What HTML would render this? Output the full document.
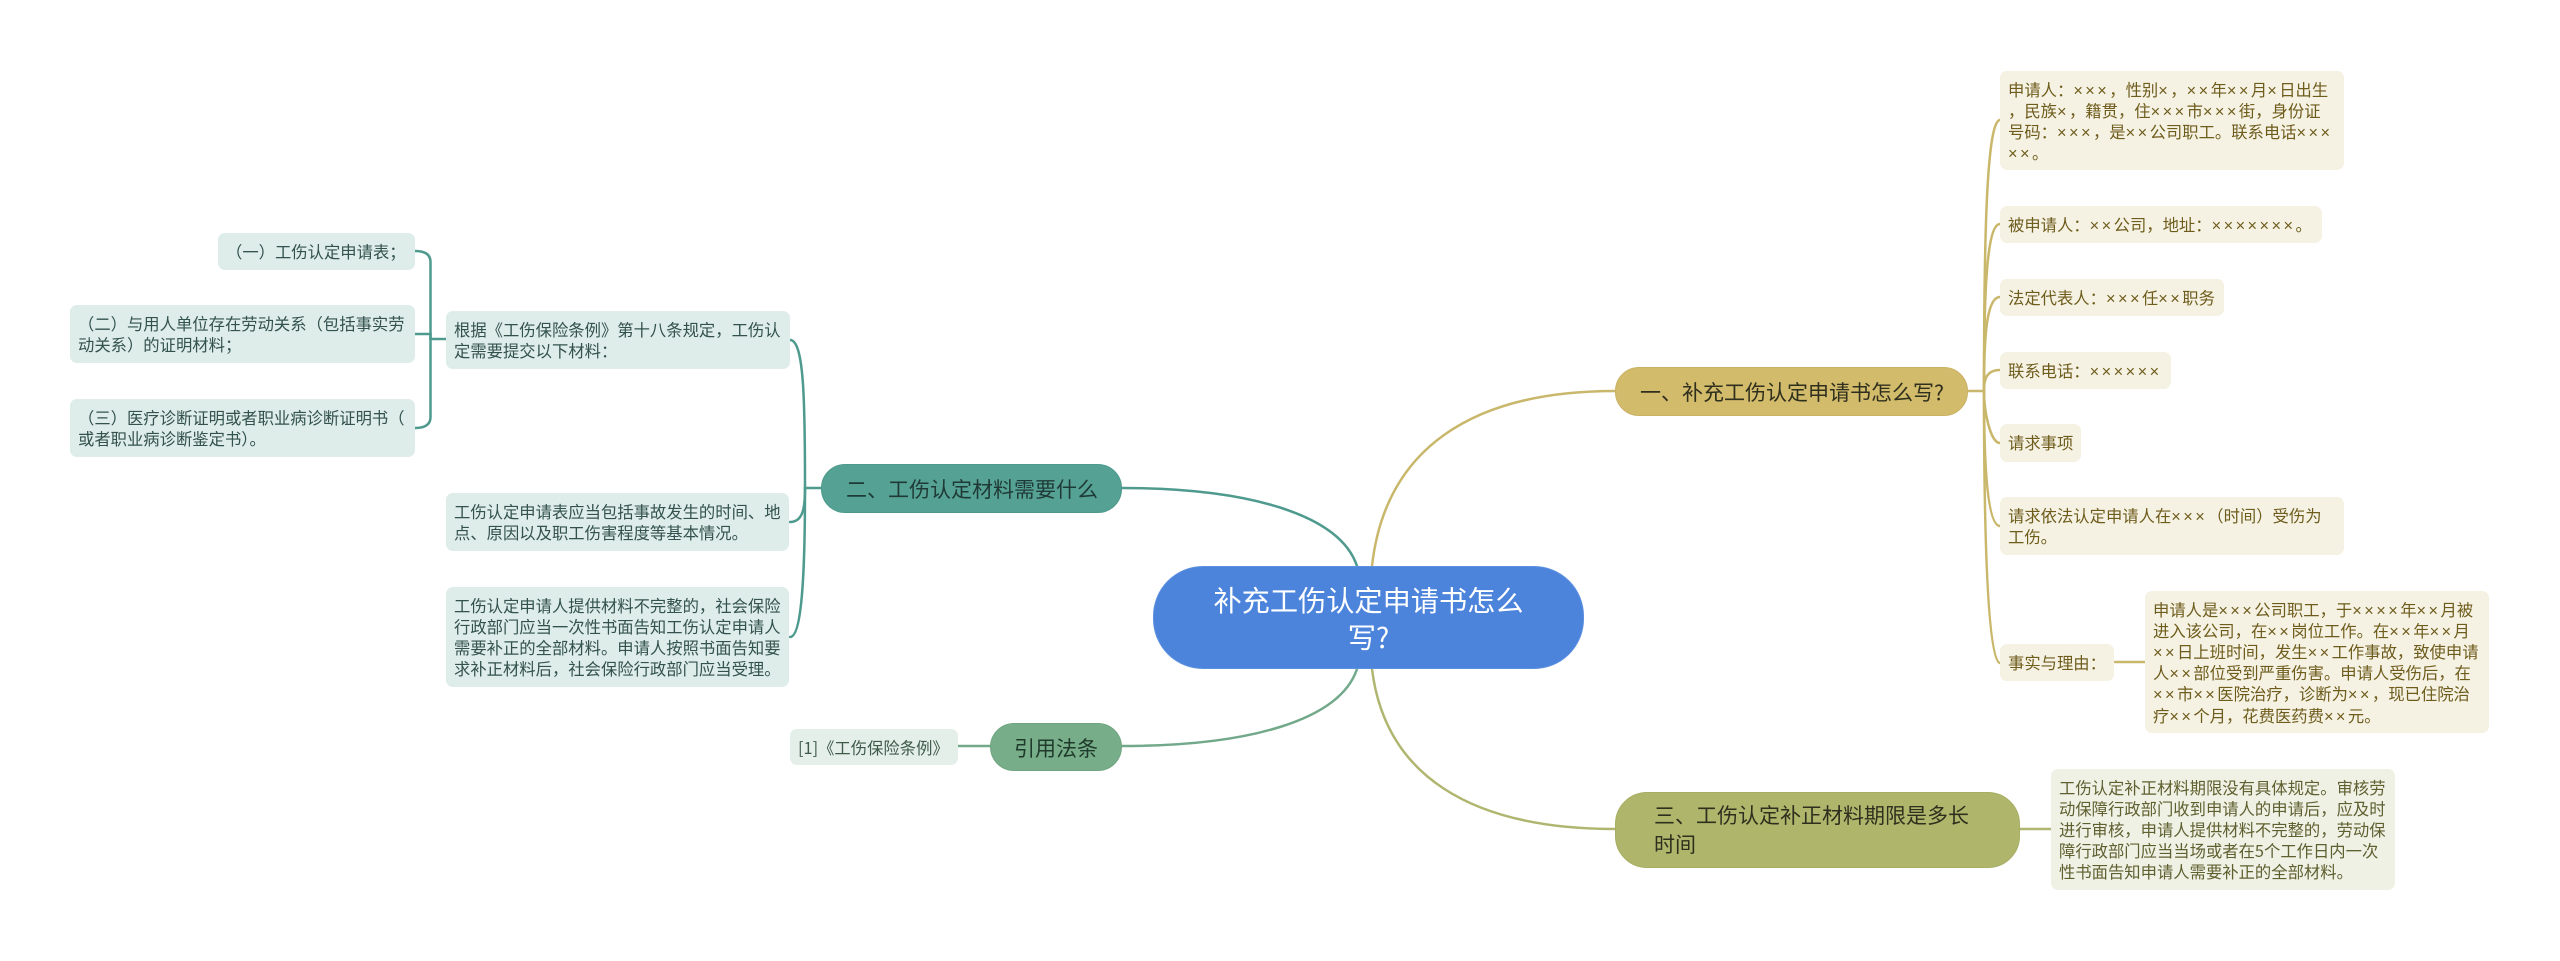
<!DOCTYPE html>
<html lang="zh">
<head>
<meta charset="utf-8">
<style>
html,body{margin:0;padding:0;background:#fff;}
#c{position:relative;width:2560px;height:961px;overflow:hidden;background:#fff;font-family:"Noto Sans CJK SC","Liberation Sans",sans-serif;}
svg{position:absolute;left:0;top:0;}
.n{position:absolute;box-sizing:border-box;white-space:nowrap;}
.l{border-radius:7px;font-size:16.33px;line-height:21.2px;padding:7.6px 0 0 8px;}
.l i{font-style:normal;font-family:"Liberation Sans",sans-serif;letter-spacing:2.45px;line-height:0;}
.y{background:#f5f2e3;color:#6e5c1c;}
.o{background:#f0f1e5;color:#5e6030;}
.g{background:#deecea;color:#33524d;}
.h{background:#e4efe9;color:#3f5a4a;}
.m{font-size:21px;line-height:29px;padding:9.5px 0 0 24px;color:#2f2f1e;}
</style>
</head>
<body>
<div id="c">
<svg width="2560" height="961" fill="none" stroke-linecap="round">
<g stroke="#c9b76b" stroke-width="2.5">
<path d="M1372,566C1385,450 1470,391 1615,391"/>
<path d="M1968,391H1984"/>
<path d="M1984,391C1984,250 1986,120 2000,120"/>
<path d="M1984,391C1984,300 1986,224 2000,224"/>
<path d="M1984,391C1984,340 1986,297 2000,297"/>
<path d="M1984,391C1984,380 1986,370 2000,370"/>
<path d="M1984,391C1984,410 1990,443 2000,443"/>
<path d="M1984,391C1984,450 1986,526 2000,526"/>
<path d="M1984,391C1984,500 1986,663 2000,663"/>
<path d="M2115,662H2145"/>
</g>
<g stroke="#b0b56f" stroke-width="2.5">
<path d="M1372,669C1385,775 1470,829 1615,829"/>
<path d="M2020,829H2051"/>
</g>
<g stroke="#4f9a8e" stroke-width="2.5">
<path d="M1357,566C1340,515 1250,488 1122,488"/>
<path d="M821,488H805"/>
<path d="M805,488C805,400 804,340 790,340"/>
<path d="M805,488C805,505 804,522 790,522"/>
<path d="M805,488C805,560 803,637 790,637"/>
<path d="M446,339H430.5"/>
<path d="M430.5,339V262Q430.5,251 415,251"/>
<path d="M430.5,339V334H415"/>
<path d="M430.5,339V417Q430.5,428 415,428"/>
</g>
<g stroke="#72a98a" stroke-width="2.5">
<path d="M1357,669C1340,720 1250,746 1122,746"/>
<path d="M958,746H990"/>
</g>
</svg>

<div class="n" style="left:1153px;top:566px;width:431px;height:103px;border-radius:50px;background:#4c84dc;border:1px solid #5c90e0;color:#fff;font-size:28.2px;line-height:37px;text-align:center;padding-top:14px;">补充工伤认定申请书怎么<br>写?</div>

<div class="n m" style="left:1615px;top:367px;width:353px;height:49px;border-radius:24px;background:#d2bb6b;border:1px solid #c9b263;">一、补充工伤认定申请书怎么写?</div>
<div class="n m" style="left:1615px;top:792px;width:405px;height:76px;border-radius:32px;background:#afb66c;border:1px solid #a7ae64;padding:8px 0 0 38px;">三、工伤认定补正材料期限是多长<br>时间</div>
<div class="n m" style="left:821px;top:464px;width:301px;height:49px;border-radius:24px;background:#55a193;border:1px solid #4d9a8c;color:#1f3a36;">二、工伤认定材料需要什么</div>
<div class="n m" style="left:990px;top:723px;width:132px;height:48px;border-radius:24px;background:#77ad89;border:1px solid #6fa581;color:#1f3a2a;padding-left:23px;">引用法条</div>

<div class="n l y" style="left:2000px;top:71px;width:344px;height:99px;">申请人：<i>×××</i>，性别<i>×</i>，<i>××</i>年<i>××</i>月<i>×</i>日出生<br>，民族<i>×</i>，籍贯，住<i>×××</i>市<i>×××</i>街，身份证<br>号码：<i>×××</i>，是<i>××</i>公司职工。联系电话<i>×××</i><br><i>××</i>。</div>
<div class="n l y" style="left:2000px;top:206px;width:322px;height:37px;">被申请人：<i>××</i>公司，地址：<i>×××××××</i>。</div>
<div class="n l y" style="left:2000px;top:279px;width:224px;height:37px;">法定代表人：<i>×××</i>任<i>××</i>职务</div>
<div class="n l y" style="left:2000px;top:352px;width:171px;height:37px;">联系电话：<i>××××××</i></div>
<div class="n l y" style="left:2000px;top:424px;width:81px;height:38px;">请求事项</div>
<div class="n l y" style="left:2000px;top:497px;width:344px;height:58px;">请求依法认定申请人在<i>×××</i>（时间）受伤为<br>工伤。</div>
<div class="n l y" style="left:2000px;top:644px;width:114px;height:37px;">事实与理由：</div>
<div class="n l y" style="left:2145px;top:591px;width:344px;height:142px;">申请人是<i>×××</i>公司职工，于<i>××××</i>年<i>××</i>月被<br>进入该公司，在<i>××</i>岗位工作。在<i>××</i>年<i>××</i>月<br><i>××</i>日上班时间，发生<i>××</i>工作事故，致使申请<br>人<i>××</i>部位受到严重伤害。申请人受伤后，在<br><i>××</i>市<i>××</i>医院治疗，诊断为<i>××</i>，现已住院治<br>疗<i>××</i>个月，花费医药费<i>××</i>元。</div>
<div class="n l o" style="left:2051px;top:769px;width:344px;height:121px;">工伤认定补正材料期限没有具体规定。审核劳<br>动保障行政部门收到申请人的申请后，应及时<br>进行审核，申请人提供材料不完整的，劳动保<br>障行政部门应当当场或者在5个工作日内一次<br>性书面告知申请人需要补正的全部材料。</div>

<div class="n l g" style="left:218px;top:233px;width:197px;height:37px;">（一）工伤认定申请表；</div>
<div class="n l g" style="left:70px;top:305px;width:345px;height:58px;">（二）与用人单位存在劳动关系（包括事实劳<br>动关系）的证明材料；</div>
<div class="n l g" style="left:70px;top:399px;width:345px;height:58px;">（三）医疗诊断证明或者职业病诊断证明书（<br>或者职业病诊断鉴定书）。</div>
<div class="n l g" style="left:446px;top:311px;width:344px;height:58px;">根据《工伤保险条例》第十八条规定，工伤认<br>定需要提交以下材料：</div>
<div class="n l g" style="left:446px;top:493px;width:343px;height:58px;">工伤认定申请表应当包括事故发生的时间、地<br>点、原因以及职工伤害程度等基本情况。</div>
<div class="n l g" style="left:446px;top:587px;width:343px;height:100px;">工伤认定申请人提供材料不完整的，社会保险<br>行政部门应当一次性书面告知工伤认定申请人<br>需要补正的全部材料。申请人按照书面告知要<br>求补正材料后，社会保险行政部门应当受理。</div>
<div class="n l h" style="left:790px;top:729px;width:168px;height:36px;">[1]《工伤保险条例》</div>
</div>
</body>
</html>
